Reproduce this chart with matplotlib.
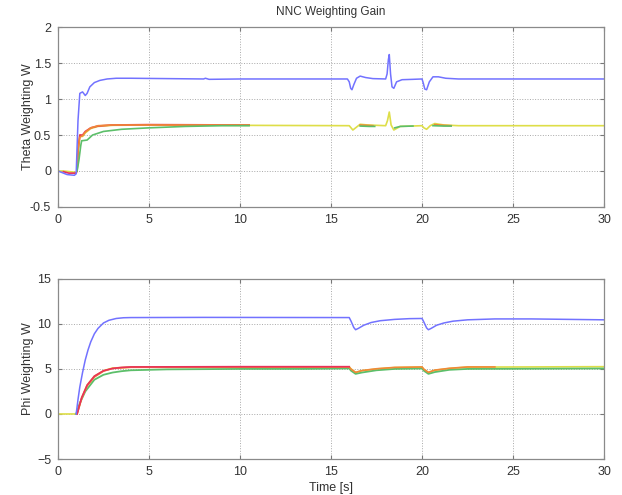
import numpy as np
import matplotlib
matplotlib.use('Agg')
import matplotlib.pyplot as plt

nan = np.nan

# ── Theta weighting W ─────────────────────────────────────────────────────────
th_blue_t = [0, 0.3, 0.5, 0.9, 1.0, 1.1, 1.2, 1.35, 1.5, 1.6, 1.75, 2.0, 2.3, 2.7,
             3.2, 4.0, 6.0, 8.0, 8.1, 8.3, 10.0, 15.9, 16.0, 16.08, 16.15, 16.25,
             16.4, 16.6, 16.9, 17.3, 18.0, 18.08, 18.15, 18.2, 18.27, 18.35, 18.45,
             18.6, 18.9, 19.5, 20.0, 20.07, 20.15, 20.25, 20.4, 20.6, 20.9, 21.3,
             22.0, 30.0]
th_blue_v = [0, -0.03, -0.05, -0.06, -0.04, 0.7, 1.08, 1.10, 1.05, 1.08, 1.17, 1.23,
             1.26, 1.28, 1.29, 1.29, 1.285, 1.28, 1.29, 1.275, 1.28, 1.28, 1.24,
             1.15, 1.13, 1.2, 1.29, 1.32, 1.3, 1.285, 1.28, 1.35, 1.55, 1.62,
             1.35, 1.17, 1.15, 1.24, 1.27, 1.275, 1.28, 1.22, 1.14, 1.13, 1.24,
             1.31, 1.31, 1.29, 1.28, 1.28]

th_yellow_t = [0, 0.3, 1.0, 1.05, 1.1, 1.2, 1.35, 1.5, 1.8, 2.2, 3.0, 5.0, 10.0,
               16.0, 16.1, 16.2, 16.35, 16.6, 17.0, 18.0, 18.1, 18.2, 18.3, 18.45,
               18.8, 20.0, 20.1, 20.25, 20.45, 20.7, 21.2, 22.0, 30.0]
th_yellow_v = [0, 0, -0.02, 0.0, 0.3, 0.5, 0.48, 0.53, 0.59, 0.62, 0.635, 0.64,
               0.635, 0.63, 0.6, 0.57, 0.6, 0.65, 0.64, 0.63, 0.7, 0.82, 0.64,
               0.57, 0.62, 0.63, 0.6, 0.58, 0.63, 0.66, 0.64, 0.63, 0.63]

th_red_t = [0.3, 0.6, 1.0, 1.05, 1.1, 1.2, 1.35, 1.5, 1.8, 2.2, 3.0, 5.0, 10.5]
th_red_v = [-0.01, -0.03, -0.03, 0.0, 0.28, 0.5, 0.5, 0.55, 0.6, 0.625, 0.64,
            0.645, 0.64]

th_orange_t = [1.05, 1.1, 1.2, 1.35, 1.5, 1.8, 2.2, 3.0, 5.0, 10.5, nan,
               16.6, 17.0, 17.3, nan, 20.7, 21.2, 21.6]
th_orange_v = [0.0, 0.27, 0.47, 0.49, 0.54, 0.6, 0.63, 0.64, 0.64, 0.64, nan,
               0.64, 0.635, 0.63, nan, 0.645, 0.635, 0.63]

th_green_t = [1.05, 1.15, 1.25, 1.3, 1.6, 1.9, 2.5, 3.5, 5.0, 7.0, 9.0, 10.5, nan,
              16.6, 17.1, 17.4, nan, 18.5, 18.8, 19.5, nan, 20.6, 21.2, 21.6]
th_green_v = [0.0, 0.15, 0.35, 0.42, 0.43, 0.5, 0.55, 0.58, 0.6, 0.62, 0.63,
              0.63, nan, 0.625, 0.62, 0.62, nan, 0.6, 0.62, 0.625, nan, 0.63,
              0.625, 0.625]

# ── Phi weighting W ───────────────────────────────────────────────────────────
ph_blue_t = [1.0, 1.1, 1.2, 1.35, 1.5, 1.65, 1.8, 2.0, 2.2, 2.5, 2.8, 3.2, 3.6,
             4.0, 8.0, 16.0, 16.1, 16.25, 16.35, 16.5, 16.8, 17.2, 17.7, 18.5,
             19.3, 20.0, 20.1, 20.25, 20.35, 20.5, 20.8, 21.2, 21.7, 22.5, 24.0,
             26.0, 28.0, 30.0]
ph_blue_v = [0, 1.6, 3.0, 4.6, 6.0, 7.1, 8.0, 8.9, 9.5, 10.1, 10.4, 10.6, 10.68,
             10.7, 10.72, 10.7, 10.3, 9.6, 9.35, 9.5, 9.85, 10.15, 10.35, 10.5,
             10.58, 10.6, 10.2, 9.55, 9.35, 9.5, 9.85, 10.1, 10.3, 10.45, 10.55,
             10.55, 10.5, 10.45]

ph_yellow_t = [0, 1.0, 1.05, 1.3, 1.6, 2.0, 2.5, 3.0, 4.0, 16.0, 16.1, 16.35,
               16.7, 17.5, 18.5, 20.0, 20.1, 20.35, 20.7, 21.5, 22.5, 30.0]
ph_yellow_v = [0, 0, 0.0, 1.8, 3.2, 4.2, 4.8, 5.1, 5.2, 5.22, 5.0, 4.6, 4.8,
               5.0, 5.15, 5.2, 4.95, 4.6, 4.85, 5.05, 5.2, 5.25]

ph_orange_t = [1.05, 1.3, 1.6, 2.0, 2.5, 3.0, 4.0, 16.0, 16.1, 16.35, 16.7,
               17.5, 18.5, 20.0, 20.1, 20.35, 20.7, 21.5, 22.5, 24.0]
ph_orange_v = [0.0, 1.7, 3.1, 4.1, 4.75, 5.05, 5.18, 5.2, 4.98, 4.62, 4.82,
               5.02, 5.17, 5.22, 4.97, 4.62, 4.87, 5.07, 5.22, 5.22]

ph_red_t = [1.05, 1.3, 1.6, 2.0, 2.5, 3.0, 3.5, 4.0, 10.0, 16.0]
ph_red_v = [0.0, 1.8, 3.2, 4.2, 4.8, 5.05, 5.17, 5.22, 5.25, 5.25]

ph_green_t = [1.0, 1.2, 1.5, 2.0, 2.5, 3.0, 3.5, 4.0, 6.0, 10.0, 13.5, 16.0,
              16.1, 16.35, 16.7, 17.5, 18.5, 20.0, 20.1, 20.35, 20.7, 21.5,
              22.5, 30.0]
ph_green_v = [0, 1.2, 2.5, 3.8, 4.35, 4.6, 4.75, 4.85, 4.95, 5.0, 5.0, 5.05,
              4.8, 4.45, 4.6, 4.85, 5.0, 5.05, 4.8, 4.45, 4.65, 4.9, 5.0, 5.05]

BLUE = '#7272ff'
RED = '#e8305a'
GREEN = '#5cbf6a'
ORANGE = '#f08838'
YELLOW = '#dede48'
GREY = '#333333'

plt.rcParams['font.family'] = ['Liberation Sans', 'DejaVu Sans']
plt.rcParams['font.size'] = 9

fig = plt.figure(figsize=(6.22, 4.95), dpi=100)
ax1 = fig.add_axes([0.0932, 0.582, 0.878, 0.363])
ax2 = fig.add_axes([0.0932, 0.0727, 0.878, 0.364])


def style(ax, yticks, ylabel):
    ax.set_xlim(0, 30)
    ax.set_xticks(range(0, 31, 5))
    ax.set_ylim(yticks[0], yticks[-1])
    ax.set_yticks(yticks)
    ax.set_ylabel(ylabel, color=GREY)
    ax.yaxis.set_label_coords(-0.044, 0.5)
    ax.grid(True, ls=':', color='#a8a8a8', lw=0.7)
    ax.tick_params(direction='in', top=True, right=True, length=3, pad=5,
                   colors='#777777', labelcolor=GREY, labelsize=9)
    for s in ax.spines.values():
        s.set_color('#8a8a8a')
        s.set_linewidth(0.9)


# top panel
ax1.plot(th_yellow_t, th_yellow_v, color=YELLOW, lw=1.2)
ax1.plot(th_red_t, th_red_v, color=RED, lw=1.2)
ax1.plot(th_orange_t, th_orange_v, color=ORANGE, lw=1.2)
ax1.plot(th_green_t, th_green_v, color=GREEN, lw=1.2)
ax1.plot(th_blue_t, th_blue_v, color=BLUE, lw=1.1)
style(ax1, [-0.5, 0, 0.5, 1, 1.5, 2], 'Theta Weighting W')
ax1.set_yticklabels(['-0.5', '0', '0.5', '1', '1.5', '2'])
ax1.set_title('NNC Weighting Gain', color=GREY, fontsize=8.5, pad=9)

# bottom panel
ax2.plot(ph_yellow_t, ph_yellow_v, color=YELLOW, lw=1.2)
ax2.plot(ph_green_t, ph_green_v, color=GREEN, lw=1.3)
ax2.plot(ph_orange_t, ph_orange_v, color=ORANGE, lw=1.2)
ax2.plot(ph_red_t, ph_red_v, color=RED, lw=1.2)
ax2.plot(ph_blue_t, ph_blue_v, color=BLUE, lw=1.1)
style(ax2, [-5, 0, 5, 10, 15], 'Phi Weighting W')
ax2.set_xlabel('Time [s]', color=GREY, labelpad=3)

fig.savefig('out.png', dpi=100)
